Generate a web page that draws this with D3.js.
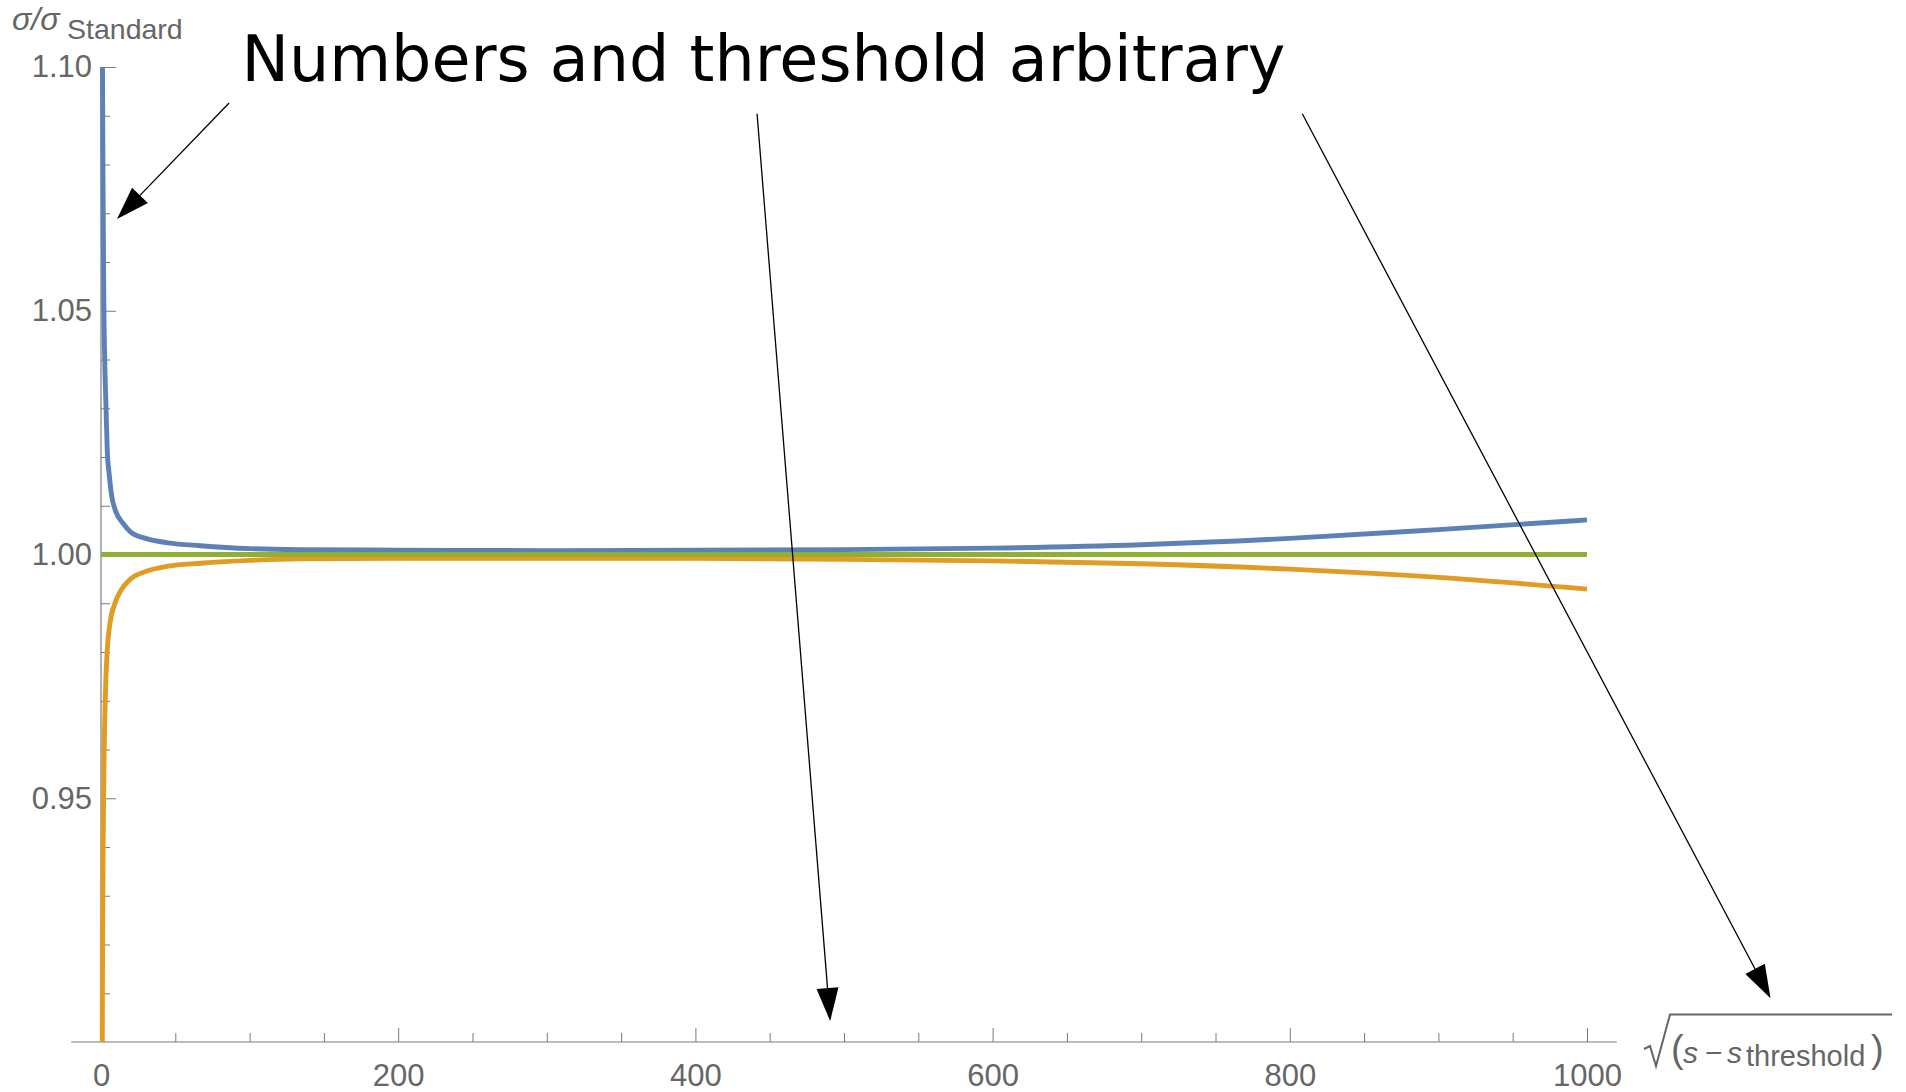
<!DOCTYPE html>
<html>
<head>
<meta charset="utf-8">
<script src="https://cdn.jsdelivr.net/npm/d3@7"></script>
<style>
  html, body { margin: 0; padding: 0; background: #ffffff; }
  svg { display: block; }
</style>
</head>
<body>
<svg id="chart" width="1906" height="1092"></svg>
<script>
// Upper branch: cross-section ratio above the standard one
const upperX     = [1.0, 1.3, 1.8, 2.5, 3.3, 4.2, 5.5, 7.2, 10, 14.8, 20, 30, 45, 67, 100, 134, 200, 300, 400, 500, 600, 700, 800, 900, 1000];
const upperRatio = [1.100, 1.080, 1.055, 1.040, 1.031, 1.0214, 1.0165, 1.0120, 1.0088, 1.0064, 1.0046, 1.0033, 1.0024, 1.0018, 1.0012, 1.0010, 1.0009, 1.0008, 1.0009, 1.0010, 1.0013, 1.0020, 1.0033, 1.0051, 1.0071];

// Lower branch: cross-section ratio below the standard one
const lowerX     = [0.85, 1.1, 1.5, 2.0, 2.9, 4.2, 6.0, 9.4, 14, 20, 30, 45, 67, 100, 134, 200, 300, 400, 500, 600, 700, 800, 900, 1000];
const lowerRatio = [0.900, 0.922, 0.943, 0.957, 0.9708, 0.9804, 0.9858, 0.9900, 0.9929, 0.9950, 0.9965, 0.9976, 0.9982, 0.9988, 0.9991, 0.9992, 0.9992, 0.9992, 0.9990, 0.9987, 0.9981, 0.9970, 0.9953, 0.9929];

// Standard reference
const standardX     = [0, 1000];
const standardRatio = [1, 1];

// Axis ticks
const xMajorTicks = [0, 200, 400, 600, 800, 1000];
const yMajorTicks = [0.95, 1.00, 1.05, 1.10];

// Annotation arrows (tail and head, in data coordinates)
const arrowTails = [[86.2, 1.0926], [441.5, 1.0904], [808.4, 1.0904]];
const arrowHeads = [[10.8, 1.0688], [490.7, 0.9043], [1123.5, 0.9090]];

const titleText = "Numbers and threshold arbitrary";

const svg = d3.select("#chart");

const x = d3.scaleLinear().domain([0, 1000]).range([101, 1587]);
const y = d3.scaleLinear().domain([0.90, 1.10]).range([1042, 67]);
const xPad = 20; // horizontal padding of the axis in data units

const axisColor = "#7a7a7a";
const labelColor = "#666666";
const tickFont = "'Liberation Sans', Arial, sans-serif";

// Axis lines
svg.append("line")
  .attr("x1", x(-xPad)).attr("x2", x(1000 + xPad))
  .attr("y1", y(0.90)).attr("y2", y(0.90))
  .attr("stroke", axisColor).attr("stroke-width", 1.2);
svg.append("line")
  .attr("x1", x(0)).attr("x2", x(0))
  .attr("y1", y(0.90)).attr("y2", y(1.10))
  .attr("stroke", axisColor).attr("stroke-width", 1.2);

// Tick marks
const xMinorTicks = d3.range(50, 1001, 50).filter(v => !xMajorTicks.includes(v));
const yMinorTicks = d3.range(91, 111, 1).map(v => v / 100).filter(v => !yMajorTicks.some(m => Math.abs(m - v) < 1e-9));

function styleAxis(g) {
  g.select(".domain").remove();
  g.selectAll(".tick line").attr("stroke", axisColor).attr("stroke-width", 1);
  g.selectAll(".tick text")
    .attr("fill", labelColor)
    .style("font-family", tickFont)
    .style("font-size", "31px");
}

svg.append("g")
  .attr("transform", `translate(0,${y(0.90)})`)
  .call(d3.axisBottom(x).tickValues(xMinorTicks).tickSize(-9).tickFormat(""))
  .call(styleAxis);
svg.append("g")
  .attr("transform", `translate(0,${y(0.90)})`)
  .call(d3.axisBottom(x).tickValues(xMajorTicks).tickSize(-14).tickPadding(22).tickFormat(d3.format("d")))
  .call(styleAxis);

svg.append("g")
  .attr("transform", `translate(${x(0)},0)`)
  .call(d3.axisLeft(y).tickValues(yMinorTicks).tickSize(-9).tickFormat(""))
  .call(styleAxis);
svg.append("g")
  .attr("transform", `translate(${x(0)},0)`)
  .call(d3.axisLeft(y).tickValues(yMajorTicks).tickSize(-15).tickPadding(9).tickFormat(d3.format(".2f")))
  .call(styleAxis);

// Curves, clipped to the plot range
svg.append("clipPath").attr("id", "plot-clip")
  .append("rect")
  .attr("x", x(-xPad)).attr("y", y(1.10))
  .attr("width", x(1000 + xPad) - x(-xPad))
  .attr("height", y(0.90) - y(1.10));

const line = d3.line()
  .x(d => x(d[0]))
  .y(d => y(d[1]))
  .curve(d3.curveMonotoneX);

const curves = svg.append("g").attr("clip-path", "url(#plot-clip)");
const series = [
  { xs: upperX, ys: upperRatio, color: "#5e81b5" },
  { xs: lowerX, ys: lowerRatio, color: "#e19c24" },
  { xs: standardX, ys: standardRatio, color: "#8fb032" }
];
series.forEach(s => {
  curves.append("path")
    .datum(s.xs.map((v, i) => [v, s.ys[i]]))
    .attr("d", line)
    .attr("fill", "none")
    .attr("stroke", s.color)
    .attr("stroke-width", 4.9)
    .attr("stroke-linejoin", "round");
});

// Vertical axis label: σ/σ_Standard
const yLabel = svg.append("text")
  .attr("fill", labelColor)
  .style("font-family", tickFont);
yLabel.append("tspan")
  .attr("x", 12).attr("y", 30)
  .style("font-style", "italic").style("font-size", "32px")
  .text("σ/σ");
yLabel.append("tspan")
  .attr("x", 67).attr("y", 39)
  .style("font-size", "28.5px")
  .text("Standard");

// Horizontal axis label: √(s − s_threshold)
svg.append("path")
  .attr("d", "M1644,1049 L1650,1046 L1656,1066 L1670,1014.5 L1892,1014.5")
  .attr("fill", "none")
  .attr("stroke", labelColor)
  .attr("stroke-width", 2)
  .attr("stroke-linejoin", "miter");

const xLabel = svg.append("text")
  .attr("fill", labelColor)
  .style("font-family", tickFont)
  .style("font-size", "30px");
xLabel.append("tspan").attr("x", 1671).attr("y", 1062).style("font-size", "38px").text("(");
xLabel.append("tspan").attr("x", 1683).attr("y", 1063).style("font-style", "italic").text("s");
xLabel.append("tspan").attr("x", 1705).attr("y", 1063).text("−");
xLabel.append("tspan").attr("x", 1727).attr("y", 1063).style("font-style", "italic").text("s");
xLabel.append("tspan").attr("x", 1746).attr("y", 1066).style("font-size", "29px").text("threshold");
xLabel.append("tspan").attr("x", 1871).attr("y", 1062).style("font-size", "38px").text(")");

// Title
svg.append("text")
  .attr("x", 241.5).attr("y", 81)
  .attr("fill", "#000000")
  .style("font-family", "'DejaVu Sans', sans-serif")
  .style("font-size", "63.5px")
  .text(titleText);

// Annotation arrows
const headLength = 33, headHalfWidth = 11;
arrowTails.forEach((tail, i) => {
  const head = arrowHeads[i];
  const x0 = x(tail[0]), y0 = y(tail[1]);
  const x1 = x(head[0]), y1 = y(head[1]);
  const len = Math.hypot(x1 - x0, y1 - y0);
  const ux = (x1 - x0) / len, uy = (y1 - y0) / len;
  const bx = x1 - ux * headLength, by = y1 - uy * headLength;
  svg.append("line")
    .attr("x1", x0).attr("y1", y0).attr("x2", bx).attr("y2", by)
    .attr("stroke", "#000").attr("stroke-width", 1.3);
  svg.append("path")
    .attr("d", `M${x1},${y1} L${bx - uy * headHalfWidth},${by + ux * headHalfWidth} L${bx + uy * headHalfWidth},${by - ux * headHalfWidth} Z`)
    .attr("fill", "#000");
});
</script>
</body>
</html>
